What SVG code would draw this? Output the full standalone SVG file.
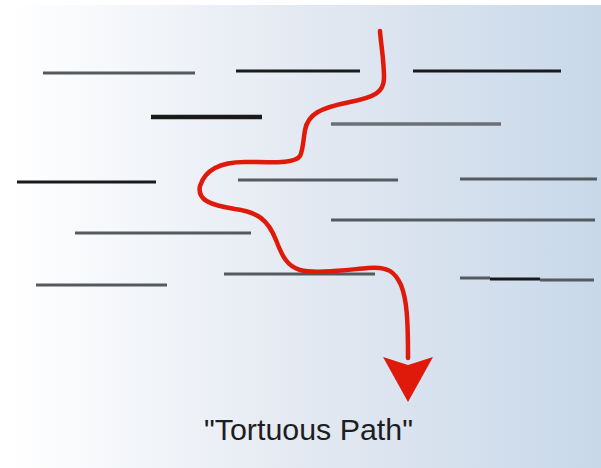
<svg xmlns="http://www.w3.org/2000/svg" width="601" height="468" viewBox="0 0 601 468">
<defs>
<linearGradient id="bg" x1="0" y1="0" x2="1" y2="0">
<stop offset="0" stop-color="#ffffff"/>
<stop offset="0.5" stop-color="#e3e9f2"/>
<stop offset="1" stop-color="#c8d8e9"/>
</linearGradient>
<style>
.ln{stroke-width:3;stroke-linecap:butt;fill:none}
.g{stroke:#555a5f}
.k{stroke:#1a1a1a}
.red{stroke:#e01a0a;stroke-width:4.5;fill:none;stroke-linecap:round;stroke-linejoin:round}
.lbl{font-family:"Liberation Sans",Arial,sans-serif;font-size:29.5px;fill:#1e1e1e}
</style>
</defs>
<rect x="0" y="0" width="601" height="468" fill="#ffffff"/>
<rect x="12" y="5" width="589" height="463" fill="url(#bg)"/>
<g id="layers">
<line class="ln g" x1="43" y1="73" x2="195" y2="73"/>
<line class="ln k" x1="236" y1="71" x2="360" y2="71"/>
<line class="ln k" x1="413" y1="71" x2="561" y2="71"/>
<line class="ln k" x1="151" y1="117" x2="262" y2="117" style="stroke-width:4.5"/>
<line class="ln g" x1="331" y1="124" x2="501" y2="124" style="stroke-width:3.5;stroke:#6a7075"/>
<line class="ln k" x1="17" y1="182" x2="156" y2="182"/>
<line class="ln g" x1="238" y1="180" x2="398" y2="180"/>
<line class="ln g" x1="460" y1="179" x2="597" y2="179"/>
<line class="ln g" x1="331" y1="220" x2="595" y2="220"/>
<line class="ln g" x1="75" y1="233" x2="251" y2="233"/>
<line class="ln g" x1="224" y1="274" x2="375" y2="274"/>
<line class="ln g" x1="36" y1="285" x2="167" y2="285"/>
<line class="ln g" x1="460" y1="278" x2="490" y2="278"/>
<line class="ln k" x1="490" y1="279" x2="540" y2="279"/>
<line class="ln g" x1="540" y1="280" x2="594" y2="280"/>
</g>
<g id="connectors">
<path class="red" d="M380,31 C381,45 384,60 384,78 C384,92 375,97 350,102 C320,108 308,114 305,130 C303,142 303,150 300,156 C295,164 270,162 245,162 C220,162 205,170 200,186 C197,200 210,205 235,209 C258,212 268,220 276,240 C282,256 287,266 300,270 C315,274 345,270 368,268 C388,266 395,272 401,285 C407,300 408,320 408,358"/>
<polygon points="383,357 408,365 433,357 408,402" fill="#e01a0a"/>
</g>
<g id="label">
<text class="lbl" x="204" y="440" textLength="209" lengthAdjust="spacingAndGlyphs">"Tortuous Path"</text>
</g>
</svg>
